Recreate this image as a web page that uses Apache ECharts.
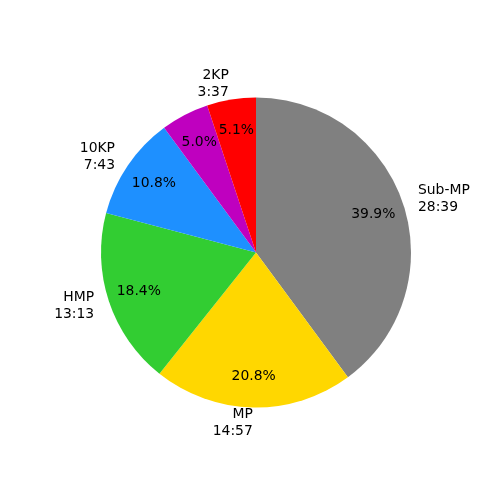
<!DOCTYPE html>
<html>
<head>
<meta charset="utf-8">
<script src="https://cdn.jsdelivr.net/npm/echarts@6/dist/echarts.min.js"></script>
<style>html,body{margin:0;padding:0;background:#fff}#c{width:500px;height:500px}</style>
</head>
<body>
<div id="c"></div>
<script>
const names = ['Sub-MP', 'MP', 'HMP', '10KP', '', '2KP'];
const times = ['28:39', '14:57', '13:13', '7:43', '', '3:37'];
const percents = [39.9, 20.8, 18.4, 10.8, 5.0, 5.1];
const colors = ['#808080', '#FFD700', '#32CD32', '#1E90FF', '#BF00BF', '#FF0000'];

const R = 155;
const center = [256, 252.5];
const font = { fontFamily: 'DejaVu Sans', fontSize: 13.9, color: '#000', lineHeight: 17 };

const chart = echarts.init(document.getElementById('c'), null, { renderer: 'canvas' });
chart.setOption({
  animation: false,
  backgroundColor: '#fff',
  series: [
    {
      type: 'pie',
      center: center,
      radius: [0, R],
      startAngle: 90,
      clockwise: true,
      avoidLabelOverlap: false,
      silent: true,
      itemStyle: { borderWidth: 0 },
      label: Object.assign({
        show: true,
        position: 'outside',
        distanceToLabelLine: 0,
        alignTo: 'none',
        formatter: p => names[p.dataIndex] ? names[p.dataIndex] + '\n' + times[p.dataIndex] : ''
      }, font),
      labelLine: { show: false, length: R * 0.1, length2: 0 },
      data: percents.map((v, i) => ({
        value: v,
        itemStyle: { color: colors[i] },
        label: { show: names[i] !== '' }
      }))
    },
    {
      type: 'pie',
      center: center,
      radius: [86, R],
      startAngle: 90,
      clockwise: true,
      silent: true,
      itemStyle: { color: 'rgba(0,0,0,0)', borderWidth: 0 },
      label: Object.assign({
        show: true,
        position: 'inside',
        rotate: 0,
        formatter: p => percents[p.dataIndex].toFixed(1) + '%'
      }, font),
      labelLine: { show: false },
      data: percents.map(v => ({ value: v }))
    }
  ]
});
</script>
</body>
</html>
